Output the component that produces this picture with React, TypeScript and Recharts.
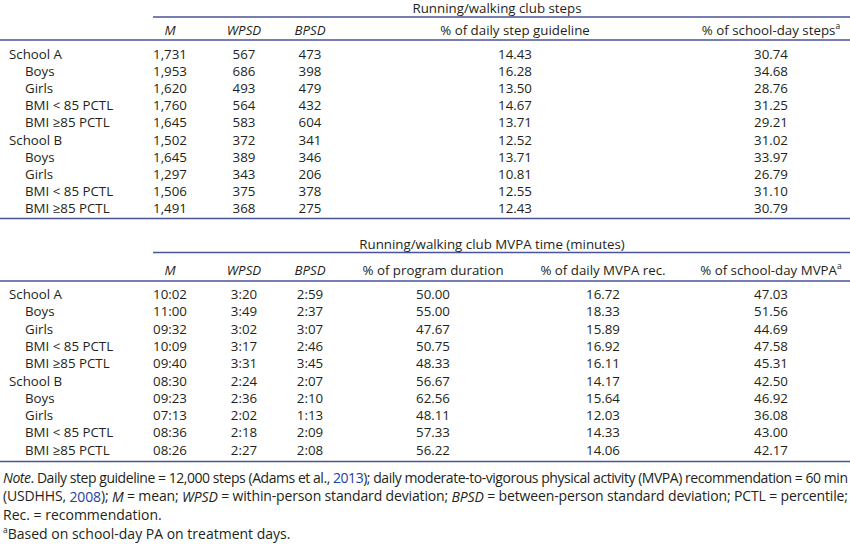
import { ScatterChart, Scatter, XAxis, YAxis, ReferenceLine } from "recharts";

// row labels (indent flags which rows are sub-groups)
const rowLabels = [
  "School A", "Boys", "Girls", "BMI < 85 PCTL", "BMI \u226585 PCTL",
  "School B", "Boys", "Girls", "BMI < 85 PCTL", "BMI \u226585 PCTL",
];
const rowIndent = [false, true, true, true, true, false, true, true, true, true];

// Running/walking club steps
const stepsM = [1731, 1953, 1620, 1760, 1645, 1502, 1645, 1297, 1506, 1491];
const stepsWPSD = [567, 686, 493, 564, 583, 372, 389, 343, 375, 368];
const stepsBPSD = [473, 398, 479, 432, 604, 341, 346, 206, 378, 275];
const stepsPctGuideline = [14.43, 16.28, 13.5, 14.67, 13.71, 12.52, 13.71, 10.81, 12.55, 12.43];
const stepsPctSchoolDay = [30.74, 34.68, 28.76, 31.25, 29.21, 31.02, 33.97, 26.79, 31.1, 30.79];

// Running/walking club MVPA time (minutes)
const mvpaM = ["10:02", "11:00", "09:32", "10:09", "09:40", "08:30", "09:23", "07:13", "08:36", "08:26"];
const mvpaWPSD = ["3:20", "3:49", "3:02", "3:17", "3:31", "2:24", "2:36", "2:02", "2:18", "2:27"];
const mvpaBPSD = ["2:59", "2:37", "3:07", "2:46", "3:45", "2:07", "2:10", "1:13", "2:09", "2:08"];
const mvpaPctProgram = [50.0, 55.0, 47.67, 50.75, 48.33, 56.67, 62.56, 48.11, 57.33, 56.22];
const mvpaPctDaily = [16.72, 18.33, 15.89, 16.92, 16.11, 14.17, 15.64, 12.03, 14.33, 14.06];
const mvpaPctSchoolDay = [47.03, 51.56, 44.69, 47.58, 45.31, 42.5, 46.92, 36.08, 43.0, 42.17];

const stepsTitle = "Running/walking club steps";
const mvpaTitle = "Running/walking club MVPA time (minutes)";
const stepsHeaders = ["M", "WPSD", "BPSD", "% of daily step guideline", "% of school-day steps"];
const mvpaHeaders = ["M", "WPSD", "BPSD", "% of program duration", "% of daily MVPA rec.", "% of school-day MVPA"];
const italicHeaders = ["M", "WPSD", "BPSD"];

// layout
const W = 850;
const H = 544;
const TEXT = "#231f20";
const RULE = "#4a5599";
const LINK = "#2440a8";
const FONT = "'Open Sans', sans-serif";
const NOTE_FONT = "'Liberation Sans Narrow', 'Open Sans', sans-serif";
const FS = 13.3;
const LABEL_X = 9;
const INDENT_X = 25;

const tables = [
  {
    title: stepsTitle, titleX: 497, titleY: 7.5, spanY: 17, headY: 29.5, headRuleY: 40,
    firstY: 53.5, rowH: 17.2, bottomY: 218.5,
    headers: stepsHeaders, colX: [170, 244, 310, 515, 771],
    cols: [
      stepsM.map((v) => v.toLocaleString("en-US")),
      stepsWPSD.map(String),
      stepsBPSD.map(String),
      stepsPctGuideline.map((v) => v.toFixed(2)),
      stepsPctSchoolDay.map((v) => v.toFixed(2)),
    ],
  },
  {
    title: mvpaTitle, titleX: 492, titleY: 243.5, spanY: 252.5, headY: 270, headRuleY: 281,
    firstY: 294, rowH: 17.3, bottomY: 461.5,
    headers: mvpaHeaders, colX: [170, 244, 310, 433, 603, 771],
    cols: [
      mvpaM,
      mvpaWPSD,
      mvpaBPSD,
      mvpaPctProgram.map((v) => v.toFixed(2)),
      mvpaPctDaily.map((v) => v.toFixed(2)),
      mvpaPctSchoolDay.map((v) => v.toFixed(2)),
    ],
  },
];

type Cell = { x: number; y: number; text: string; kind: string };

const cells: Cell[] = [];
tables.forEach((t) => {
  cells.push({ x: t.titleX, y: t.titleY, text: t.title, kind: "title" });
  t.headers.forEach((h, c) => {
    const last = c === t.headers.length - 1;
    cells.push({ x: t.colX[c], y: t.headY, text: h, kind: last ? "headSup" : "head" });
  });
  rowLabels.forEach((lab, r) => {
    const y = t.firstY + r * t.rowH;
    cells.push({ x: rowIndent[r] ? INDENT_X : LABEL_X, y, text: lab, kind: "label" });
    t.cols.forEach((col, c) => cells.push({ x: t.colX[c], y, text: col[r], kind: "value" }));
  });
});

const noteLines = [
  { x: 3, y: 477, kind: "note1" },
  { x: 3, y: 495.5, kind: "note2" },
  { x: 3, y: 514, kind: "note3" },
  { x: 3, y: 533, kind: "note4" },
];

const CellShape = (props: any) => {
  const { cx, cy, payload } = props;
  const p = payload as Cell;
  if (p.kind === "label") {
    return (
      <text x={cx} y={cy} dominantBaseline="central" fontFamily={FONT} fontSize={FS} fill={TEXT}>
        {p.text}
      </text>
    );
  }
  if (p.kind === "head" || p.kind === "headSup") {
    const ital = italicHeaders.includes(p.text);
    return (
      <text x={cx} y={cy} textAnchor="middle" dominantBaseline="central" fontFamily={FONT} fontSize={FS} fill={TEXT}
        fontStyle={ital ? "italic" : "normal"}>
        {p.text}
        {p.kind === "headSup" && <tspan dy={-5} fontSize={8.5}>a</tspan>}
      </text>
    );
  }
  return (
    <text x={cx} y={cy} textAnchor="middle" dominantBaseline="central" fontFamily={FONT} fontSize={FS} fill={TEXT}>
      {p.text}
    </text>
  );
};

const NoteShape = (props: any) => {
  const { cx, cy, payload } = props;
  const common = { x: cx, y: cy, dominantBaseline: "central", fontFamily: NOTE_FONT, fontSize: 14, fill: TEXT } as any;
  switch (payload.kind) {
    case "note1":
      return (
        <text {...common} textLength={845} lengthAdjust="spacing">
          <tspan fontStyle="italic">Note</tspan>. Daily step guideline = 12,000 steps (Adams et al.,{" "}
          <tspan fill={LINK}>2013</tspan>); daily moderate-to-vigorous physical activity (MVPA) recommendation = 60 min
        </text>
      );
    case "note2":
      return (
        <text {...common} textLength={845} lengthAdjust="spacing">
          (USDHHS, <tspan fill={LINK}>2008</tspan>); <tspan fontStyle="italic">M</tspan> = mean;{" "}
          <tspan fontStyle="italic">WPSD</tspan> = within-person standard deviation;{" "}
          <tspan fontStyle="italic">BPSD</tspan> = between-person standard deviation; PCTL = percentile;
        </text>
      );
    case "note3":
      return <text {...common}>Rec. = recommendation.</text>;
    default:
      return (
        <text {...common}>
          <tspan dy={-4} fontSize={8.5}>a</tspan>
          <tspan dy={4}>Based on school-day PA on treatment days.</tspan>
        </text>
      );
  }
};

export default function App() {
  return (
    <div style={{ position: "absolute", left: 0, top: 0, width: W, height: H, background: "#fff" }}>
      <ScatterChart width={W} height={H} margin={{ top: 0, right: 0, bottom: 0, left: 0 }}>
        <XAxis type="number" dataKey="x" domain={[0, W]} hide allowDataOverflow />
        <YAxis type="number" dataKey="y" domain={[0, H]} reversed hide allowDataOverflow />
        {tables.map((t, i) => [
          <ReferenceLine key={`s${i}`} segment={[{ x: 153, y: t.spanY }, { x: W, y: t.spanY }]} stroke={RULE} strokeWidth={1.3} />,
          <ReferenceLine key={`h${i}`} segment={[{ x: 0, y: t.headRuleY }, { x: W, y: t.headRuleY }]} stroke={RULE} strokeWidth={1.3} />,
          <ReferenceLine key={`b${i}`} segment={[{ x: 0, y: t.bottomY }, { x: W, y: t.bottomY }]} stroke={RULE} strokeWidth={1.3} />,
        ])}
        <Scatter data={cells} dataKey="y" shape={CellShape} isAnimationActive={false} />
        <Scatter data={noteLines} dataKey="y" shape={NoteShape} isAnimationActive={false} />
      </ScatterChart>
    </div>
  );
}
